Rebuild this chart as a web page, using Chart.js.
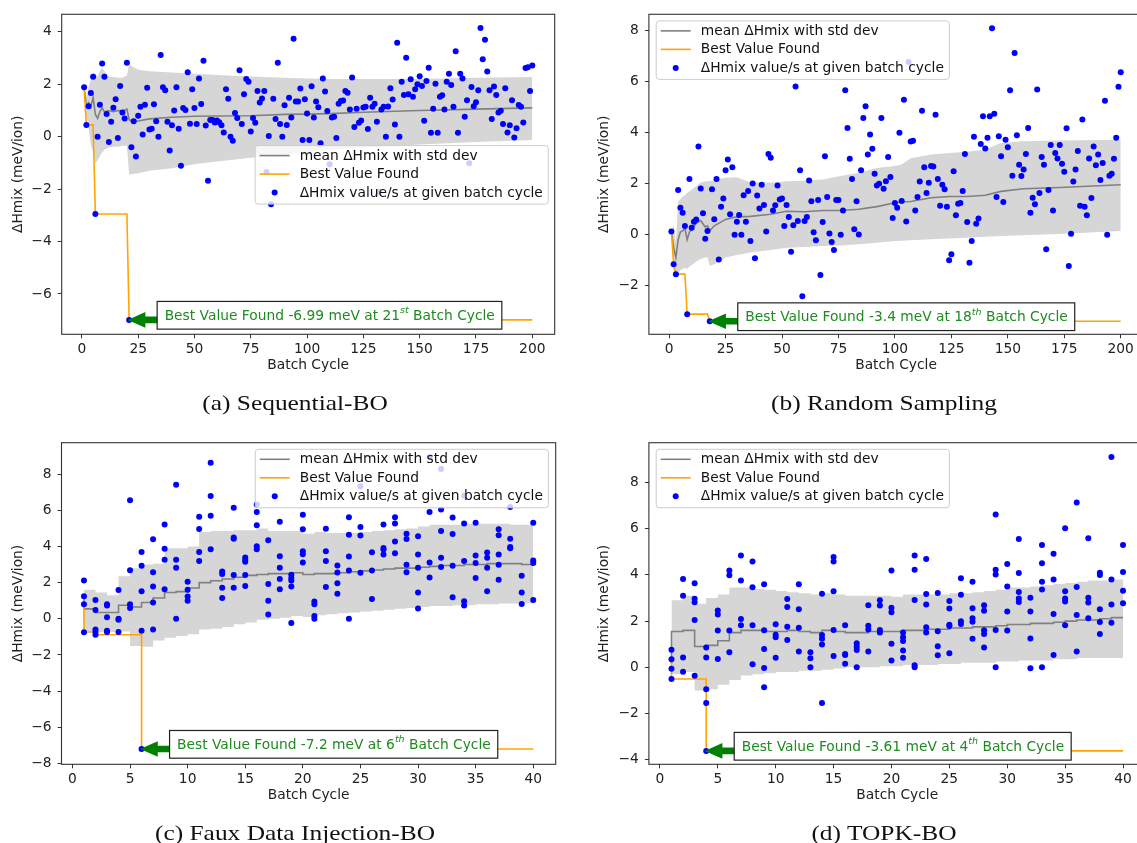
<!DOCTYPE html>
<html>
<head>
<meta charset="utf-8">
<script src="https://cdn.jsdelivr.net/npm/chart.js@4.4.1/dist/chart.umd.min.js"></script>
<style>
  html, body { margin: 0; padding: 0; background: #fff; }
  body { width: 1137px; height: 843px; overflow: hidden; position: relative; }
  .panel { position: absolute; }
  .caption {
    position: absolute; transform: translate(-50%, -50%) scaleX(1.21);
    font-family: "Liberation Serif", serif; font-size: 21px; color: #111; white-space: nowrap;
  }
</style>
</head>
<body>
<div class="panel" style="left:0;top:0;width:570px;height:420px"><canvas id="chartA" width="570" height="420"></canvas></div>
<div class="panel" style="left:570px;top:0;width:580px;height:420px"><canvas id="chartB" width="580" height="420"></canvas></div>
<div class="panel" style="left:0;top:420px;width:570px;height:423px"><canvas id="chartC" width="570" height="423"></canvas></div>
<div class="panel" style="left:570px;top:420px;width:580px;height:423px"><canvas id="chartD" width="580" height="423"></canvas></div>
<div class="caption" style="left:295px;top:403px">(a) Sequential-BO</div>
<div class="caption" style="left:884px;top:403px">(b) Random Sampling</div>
<div class="caption" style="left:295px;top:833px">(c) Faux Data Injection-BO</div>
<div class="caption" style="left:884px;top:833px">(d) TOPK-BO</div>
<script>
// ---- (a) Sequential-BO : one evaluation per batch cycle 1..200
const aValues = [1.89,0.45,1.16,1.67,2.29,-2.95,0.0,1.22,2.79,2.29,0.87,-0.2,0.57,1.1,1.43,-0.05,1.93,0.92,0.69,2.82,
  -6.99,-0.4,0.59,-0.76,0.8,1.14,0.08,1.22,1.87,0.27,0.3,1.24,0.59,0.0,3.12,1.89,1.77,0.57,-0.53,0.44,
  1.0,1.89,0.3,-1.11,1.09,1.02,2.46,0.49,1.81,1.09,0.48,2.22,1.25,2.9,0.43,-1.68,0.64,0.64,0.54,0.62,
  0.55,0.44,0.16,1.81,1.45,0.0,-0.16,0.9,0.71,2.53,0.48,1.62,2.2,2.1,0.2,0.71,0.53,1.74,1.3,1.46,
  1.74,-1.35,0.03,-2.58,1.45,0.67,2.82,0.48,0.0,1.2,0.45,1.49,0.73,3.74,1.34,1.34,1.84,-0.13,1.43,0.88,
  -0.13,1.92,0.73,1.34,1.12,-0.25,2.22,1.72,0.98,-1.05,0.73,0.76,-0.05,1.26,1.36,1.38,1.74,1.68,1.04,2.26,
  0.37,1.07,0.53,0.62,1.11,1.14,0.29,1.49,1.14,1.26,0.57,-2.1,1.04,1.14,0.0,1.15,1.85,1.42,0.46,3.58,
  0.0,2.1,1.59,3.01,1.62,2.19,1.52,1.81,2.0,2.31,1.93,0.61,2.12,2.63,0.15,1.07,2.02,0.15,1.52,1.58,
  1.04,2.1,2.4,1.97,1.14,3.26,0.15,2.4,2.22,0.76,1.39,-1.01,1.9,1.16,1.31,1.77,4.15,2.95,3.7,2.49,
  1.77,0.67,1.91,1.59,0.92,0.99,0.48,1.85,0.16,0.44,1.39,-0.03,0.32,1.21,1.14,0.54,2.62,2.65,1.74,2.72];
const aBandCycles = [1,2,3,4,5,6,7,8,9,10,12,14,16,18,20,21,22,25,30,40,50,60,75,90,100,110,125,150,175,200];
const aMean  = [1.9,1.15,1.3,1.15,1.5,0.85,0.7,0.95,1.1,0.95,1.0,0.95,1.0,0.98,1.05,0.65,0.6,0.6,0.68,0.74,0.78,0.79,0.8,0.85,0.86,0.88,0.93,1.0,1.05,1.1];
const aUpper = [1.9,1.5,1.9,2.2,2.45,2.4,2.3,2.5,2.63,2.5,2.3,2.28,2.25,2.25,2.33,2.75,2.7,2.55,2.5,2.45,2.4,2.35,2.3,2.25,2.22,2.2,2.2,2.2,2.25,2.28];
const aLower = [1.9,0.8,0.3,-0.3,-0.6,-1.0,-0.9,-0.75,-0.6,-0.5,-0.4,-0.38,-0.38,-0.35,-0.35,-1.45,-1.42,-1.4,-1.3,-1.2,-1.05,-0.95,-0.8,-0.68,-0.6,-0.5,-0.42,-0.3,-0.2,-0.13];
const aBestCycles = [1,2,5,6,20,21,200];
const aBestValues = [1.89,0.45,0.45,-2.95,-2.95,-6.99,-6.99];
const aXTicks = [0,25,50,75,100,125,150,175,200];
const aYTicks = [-6,-4,-2,0,2,4];

// ---- (b) Random Sampling : one evaluation per batch cycle 1..200
const bValues = [0.12,-1.16,-1.55,1.75,1.06,0.86,0.34,-3.12,2.19,0.27,0.51,0.6,3.46,1.81,0.84,-0.16,0.14,-3.4,1.78,0.61,
  2.19,-0.97,1.1,1.42,2.53,2.95,0.8,2.65,0.0,0.51,0.77,0.0,1.55,0.51,1.71,-0.25,2.01,-0.93,1.54,1.03,
  1.96,1.16,0.12,3.17,3.02,0.95,1.15,1.93,1.38,1.42,0.34,1.16,0.69,-0.67,0.37,5.82,0.54,2.53,-2.42,0.54,
  0.69,2.13,1.31,0.1,-0.22,1.36,-1.58,0.5,3.08,1.48,0.05,-0.29,-0.6,1.36,1.36,0.0,0.95,5.67,4.19,2.98,
  2.19,0.21,1.31,0.01,2.53,4.58,5.04,3.15,3.93,3.37,2.39,1.93,2.0,4.58,1.8,2.1,3.05,2.26,0.65,1.24,
  1.06,4.0,1.32,5.3,0.52,6.78,3.66,3.69,0.95,1.48,2.09,4.86,2.65,1.64,2.04,2.7,2.68,4.71,2.19,1.14,
  1.96,1.78,1.1,-1.0,-0.77,2.49,0.76,1.21,1.24,1.71,3.17,0.5,-1.1,-0.25,3.84,0.43,0.63,3.56,4.65,3.38,
  3.8,4.65,8.1,4.75,1.48,3.86,3.08,1.28,3.73,3.43,5.67,2.31,7.13,3.9,2.74,2.3,2.56,3.17,4.19,0.86,
  1.45,1.19,5.7,1.64,3.05,2.74,-0.57,1.75,3.52,0.95,3.21,2.99,3.52,2.78,2.47,4.18,-1.23,0.04,2.09,2.56,
  3.28,1.14,4.52,1.1,0.76,2.99,1.44,3.46,2.72,3.15,2.15,2.81,5.26,0.0,2.31,2.39,2.98,3.8,5.81,6.37];
const bBandCycles = [1,2,3,4,5,6,7,8,9,10,12,14,16,17,18,20,25,30,36,45,52,60,68,76,84,92,100,103,107,116,124,132,140,147,157,173,200];
const bMean  = [0.12,-0.5,-0.9,-0.2,0.1,0.15,0.25,-0.2,0.1,0.2,0.45,0.55,0.3,0.35,0.15,0.35,0.6,0.7,0.72,0.8,0.92,0.9,0.95,0.95,1.0,1.1,1.25,1.28,1.3,1.45,1.5,1.5,1.55,1.7,1.8,1.85,1.96];
const bUpper = [0.12,0.4,-0.3,1.3,1.4,1.5,1.55,1.65,1.7,1.75,1.9,2.05,2.1,2.1,2.1,2.15,2.23,2.25,2.05,2.05,2.1,2.12,2.17,2.3,2.43,2.62,2.7,2.75,3.0,3.15,3.21,3.25,3.34,3.6,3.67,3.7,3.73];
const bLower = [0.12,-1.4,-1.6,-1.5,-1.4,-1.35,-1.3,-1.35,-1.25,-1.2,-1.05,-0.95,-0.9,-0.9,-1.23,-1.16,-0.9,-0.8,-0.7,-0.6,-0.51,-0.48,-0.44,-0.42,-0.38,-0.32,-0.25,-0.24,-0.22,-0.18,-0.15,-0.12,-0.08,-0.05,-0.02,0.03,0.14];
const bBestCycles = [1,2,3,7,8,17,18,200];
const bBestValues = [0.12,-1.16,-1.55,-1.55,-3.12,-3.12,-3.4,-3.4];
const bXTicks = [0,25,50,75,100,125,150,175,200];
const bYTicks = [-2,0,2,4,6,8];

// ---- (c) Faux Data Injection-BO : several evaluations per batch cycle 1..40
const cValuesByCycle = [
  [2.12,1.25,0.8,-0.75],[1.04,0.48,-0.6,-0.88,-0.73],[0.8,0.73,0.09,-0.66,-0.73],[1.59,0.0,-0.05,-0.73],
  [6.56,2.69,0.81,0.59],[3.7,2.93,1.52,-0.66,-7.2],[4.4,2.58,1.78,0.9,-0.59],[5.22,3.88,3.26,1.63],
  [7.42,3.26,2.82,0.0],[2.05,1.61,1.23,1.0],[5.64,4.96,3.7,3.2],[8.63,6.79,5.7,3.85],
  [2.62,2.47,1.72,1.15],[6.14,4.49,4.43,2.42,1.72],[3.39,3.26,3.15,2.42,1.81],[6.32,5.9,5.18,4.01,3.85],
  [4.34,1.92,1.0,0.24],[5.37,3.46,2.82,2.2,1.63],[2.44,2.25,2.12,1.78,-0.24],[5.75,4.95,3.74,3.57,3.11],
  [0.95,0.81,0.15,0.0],[4.98,3.74,3.2,1.76],[2.95,2.56,1.96,1.39],[5.62,4.65,3.44,2.67,0.0],
  [7.33,5.07,4.6,2.55],[3.68,2.67,1.1],[5.22,3.92,3.83,3.55],[5.62,5.27,4.27,3.63],
  [4.71,4.41,2.99,2.58],[4.56,3.55,2.82,1.45,0.57],[8.95,5.9,3.11,2.29],[8.28,6.04,4.85,3.37,2.86],
  [5.6,4.69,2.93,1.19],[6.81,5.27,3.19,0.97,0.73],[5.31,3.5,3.08,2.25],[3.66,3.37,2.82,1.52],
  [4.95,4.62,3.55,2.99,2.16],[6.19,4.43,3.97,3.9],[2.38,1.45,0.82],[5.31,3.22,3.08,1.04]];
const cMean  = [1.1,0.55,0.35,0.35,0.75,0.65,0.9,1.15,1.45,1.5,1.7,2.0,2.1,2.2,2.3,2.4,2.45,2.5,2.5,2.55,2.45,2.5,2.5,2.55,2.6,2.65,2.7,2.75,2.8,2.8,2.85,2.9,2.95,2.95,3.0,3.0,3.05,3.05,3.05,3.0];
const cUpper = [2.0,1.6,1.45,1.3,2.35,2.8,3.0,3.05,3.9,3.9,4.0,4.8,4.85,4.85,4.9,4.9,5.0,4.85,4.85,4.85,4.7,4.8,4.75,4.75,4.75,4.8,4.85,4.9,4.95,5.0,5.1,5.2,5.2,5.2,5.25,5.25,5.25,5.25,5.2,5.2];
const cLower = [0.0,-0.7,-0.75,-0.75,-0.7,-1.5,-1.55,-1.2,-1.05,-0.95,-0.85,-0.6,-0.55,-0.45,-0.3,-0.2,-0.05,0.0,0.05,0.15,0.1,0.2,0.25,0.3,0.35,0.4,0.45,0.5,0.55,0.6,0.65,0.7,0.7,0.75,0.75,0.8,0.8,0.85,0.85,0.85];
const cBestCycles = [1,1,2,2,6,6,40];
const cBestValues = [0.8,-0.73,-0.73,-0.88,-0.88,-7.2,-7.2];
const cXTicks = [0,5,10,15,20,25,30,35,40];
const cYTicks = [-8,-6,-4,-2,0,2,4,6,8];

// ---- (d) TOPK-BO : several evaluations per batch cycle 1..40
const dValuesByCycle = [
  [0.76,0.35,-0.06,-0.5],[3.82,3.1,0.43,-0.19],[3.63,2.97,2.81,2.05,-0.36],[0.86,0.43,-0.95,-1.54,-3.61],
  [2.46,2.28,1.59,0.36],[4.19,3.98,1.59,0.65],[4.83,3.75,2.09,1.82],[4.57,3.46,1.82,0.13],
  [3.59,1.6,0.79,-0.03,-0.86],[1.86,1.41,1.3,0.42],[2.95,2.61,1.76,1.18],[3.59,2.51,1.71,0.69],
  [0.65,0.39,0.0],[3.18,1.4,1.24,0.99,-1.54],[4.77,4.58,3.29,1.61,0.49],[1.82,0.58,0.53,0.16],
  [1.04,0.89,0.75,0.0],[2.68,1.8,1.64,0.69],[2.9,2.67,1.61,1.51],[4.19,2.58,2.38,1.02,0.3],
  [1.51,1.3,1.14,0.73,0.42],[4.83,4.22,2.91,0.09,0.01],[4.68,3.17,2.72,1.73,1.51],[3.21,1.56,0.91,0.52],
  [2.87,2.54,1.84,1.79,0.61],[3.85,3.14,1.99,1.87],[3.7,2.56,2.12,1.97,1.24],[2.68,2.45,1.6,1.44,0.86],
  [6.61,4.22,4.01,1.61,0.0],[4.47,3.49,2.41,1.59],[5.55,4.08,3.26,2.98,2.82],[3.01,2.41,1.25,-0.04],
  [5.29,4.5,3.7,3.37,0.0],[4.91,3.8,2.31,0.53],[6.01,3.29,2.98,2.85,1.82],[7.13,3.47,2.26,0.68],
  [5.58,3.01,2.8,2.12],[4.09,3.99,2.51,1.96,1.44],[9.09,3.8,2.72,1.93],[5.29,4.12,3.31,2.77]];
const dMean  = [0.15,1.55,1.6,0.9,0.95,1.15,1.5,1.6,1.6,1.55,1.55,1.6,1.55,1.5,1.6,1.55,1.5,1.5,1.55,1.55,1.55,1.6,1.6,1.65,1.65,1.7,1.7,1.75,1.75,1.8,1.85,1.85,1.9,1.9,1.95,2.0,2.05,2.05,2.1,2.15];
const dUpper = [0.7,2.9,3.1,2.75,3.0,3.15,3.45,3.45,3.4,3.35,3.3,3.25,3.2,3.15,3.2,3.15,3.1,3.1,3.1,3.1,3.05,3.15,3.15,3.15,3.15,3.2,3.2,3.25,3.3,3.35,3.45,3.45,3.5,3.55,3.6,3.65,3.7,3.75,3.75,3.8];
const dLower = [-0.25,-0.3,-0.2,-1.0,-0.95,-0.75,-0.55,-0.35,-0.3,-0.25,-0.2,-0.2,-0.15,-0.15,-0.1,-0.05,0.0,0.0,0.0,0.05,0.05,0.1,0.1,0.1,0.15,0.15,0.2,0.2,0.2,0.25,0.25,0.3,0.3,0.3,0.35,0.35,0.4,0.4,0.4,0.4];
const dBestCycles = [1,1,4,4,40];
const dBestValues = [0.35,-0.5,-0.5,-3.61,-3.61];
const dXTicks = [0,5,10,15,20,25,30,35,40];
const dYTicks = [-4,-2,0,2,4,6,8];

const LABEL_MEAN = 'mean ΔHmix with std dev';
const LABEL_BEST = 'Best Value Found';
const LABEL_DOTS = 'ΔHmix value/s at given batch cycle';

const FONT_PX = 13.8;
Chart.defaults.font.family = 'DejaVu Sans';
Chart.defaults.font.size = FONT_PX;
Chart.defaults.color = '#222';

const BLUE = '#0000ff', ORANGE = '#ffa500', GRAY = '#808080', BAND = '#d6d6d6';
const GREEN = '#008000', NOTE_TEXT = '#1f8a1f';

function pts(xs, ys) { return xs.map((x, i) => ({ x: x, y: ys[i] })); }
function flatByCycle(groups) {
  const out = [];
  groups.forEach((g, i) => g.forEach(v => out.push({ x: i + 1, y: v })));
  return out;
}
const minus = v => String(v).replace('-', '\u2212');

// legend, annotation box + arrow, axes frame
const overlay = {
  id: 'overlay',
  afterDatasetsDraw(chart, args, opts) {
    const { ctx, chartArea: ca } = chart;
    ctx.save();
    ctx.strokeStyle = '#333';
    ctx.lineWidth = 1.1;
    ctx.strokeRect(ca.left, ca.top, ca.right - ca.left, ca.bottom - ca.top);
    ctx.restore();
    drawNote(chart, opts.note);
    drawLegend(chart, opts.legend);
  }
};

function drawNote(chart, note) {
  const { ctx, scales } = chart;
  const px = scales.x.getPixelForValue(note.cycle);
  const py = scales.y.getPixelForValue(note.value);
  const main = FONT_PX + 'px "DejaVu Sans"', sup = 'italic 9.5px "DejaVu Sans"';
  const t1 = 'Best Value Found ' + note.value + ' meV at ' + note.cycle;
  const t2 = ' Batch Cycle';
  ctx.save();
  ctx.font = main;
  const w1 = ctx.measureText(t1).width, w3 = ctx.measureText(t2).width;
  ctx.font = sup;
  const w2 = ctx.measureText(note.suffix).width;
  const bx = px + 28, bh = 27.7, by = py - 4.6 - bh / 2;
  const bw = 7.5 + w1 + w2 + w3 + 7;
  // arrow
  const tip = px - 1.5;
  ctx.fillStyle = GREEN;
  ctx.beginPath();
  ctx.moveTo(tip, py);
  ctx.lineTo(tip + 17.7, py - 7.8);
  ctx.lineTo(tip + 17.7, py - 3.3);
  ctx.lineTo(bx + 2, py - 3.3);
  ctx.lineTo(bx + 2, py + 3.3);
  ctx.lineTo(tip + 17.7, py + 3.3);
  ctx.lineTo(tip + 17.7, py + 7.8);
  ctx.closePath();
  ctx.fill();
  // box
  ctx.fillStyle = '#fff';
  ctx.strokeStyle = '#222';
  ctx.lineWidth = 1.2;
  ctx.fillRect(bx, by, bw, bh);
  ctx.strokeRect(bx, by, bw, bh);
  // text
  const ty = by + bh / 2 + 1;
  ctx.fillStyle = NOTE_TEXT;
  ctx.textBaseline = 'middle';
  ctx.font = main;
  ctx.fillText(t1, bx + 7.5, ty);
  ctx.font = sup;
  ctx.fillText(note.suffix, bx + 7.5 + w1, ty - 5.5);
  ctx.font = main;
  ctx.fillText(t2, bx + 7.5 + w1 + w2, ty);
  ctx.restore();
}

function drawLegend(chart, lg) {
  const { ctx, chartArea: ca } = chart;
  const rows = chart.data.datasets.filter(d => d.legendKind);
  ctx.save();
  ctx.font = FONT_PX + 'px "DejaVu Sans"';
  const tw = Math.max(...rows.map(r => ctx.measureText(r.label).width));
  const w = 4.5 + 30 + 10 + tw + 5.5, h = 58.5;
  const x = lg.anchor === 'left' ? ca.left + lg.dx : ca.right - lg.dx - w;
  const y = ca.top + lg.dy;
  ctx.beginPath();
  ctx.roundRect(x, y, w, h, 3);
  ctx.fillStyle = 'rgba(255,255,255,0.8)';
  ctx.fill();
  ctx.strokeStyle = '#cccccc';
  ctx.lineWidth = 1;
  ctx.stroke();
  rows.forEach((r, i) => {
    const cy = y + 10 + i * 18.5;
    if (r.legendKind === 'line') {
      ctx.strokeStyle = r.borderColor;
      ctx.lineWidth = r.borderWidth;
      ctx.beginPath();
      ctx.moveTo(x + 4.5, cy);
      ctx.lineTo(x + 34.5, cy);
      ctx.stroke();
    } else {
      ctx.fillStyle = r.backgroundColor;
      ctx.beginPath();
      ctx.arc(x + 19.5, cy, 3, 0, Math.PI * 2);
      ctx.fill();
    }
    ctx.fillStyle = '#111';
    ctx.textBaseline = 'middle';
    ctx.fillText(r.label, x + 44.5, cy + 0.5);
  });
  ctx.restore();
}

function makeChart(id, p) {
  const datasets = [
    { label: '', data: pts(p.bandX, p.lower), showLine: true, borderColor: 'rgba(0,0,0,0)', borderWidth: 0,
      pointRadius: 0, fill: false, stepped: p.stepped, order: 4 },
    { label: '', data: pts(p.bandX, p.upper), showLine: true, borderColor: 'rgba(0,0,0,0)', borderWidth: 0,
      pointRadius: 0, backgroundColor: BAND, fill: '-1', stepped: p.stepped, order: 3 },
    { label: LABEL_MEAN, legendKind: 'line', data: pts(p.bandX, p.mean), showLine: true, borderColor: GRAY,
      borderWidth: 1.6, pointRadius: 0, stepped: p.stepped, order: 2 },
    { label: LABEL_BEST, legendKind: 'line', data: pts(p.bestX, p.bestY), showLine: true, borderColor: ORANGE,
      borderWidth: 1.6, pointRadius: 0, order: 1 },
    { label: LABEL_DOTS, legendKind: 'dot', data: p.dots, showLine: false, backgroundColor: BLUE,
      borderWidth: 0, pointRadius: 3, order: 0 }
  ];
  const yW = p.yWidth;
  return new Chart(document.getElementById(id), {
    type: 'scatter',
    data: { datasets: datasets },
    options: {
      responsive: false,
      animation: false,
      events: [],
      layout: { padding: p.pad },
      plugins: {
        legend: { display: false },
        tooltip: { enabled: false },
        overlay: { note: p.note, legend: p.legend }
      },
      scales: {
        x: {
          type: 'linear', min: p.xRange[0], max: p.xRange[1],
          afterBuildTicks: s => { s.ticks = p.xTicks.map(v => ({ value: v })); },
          afterFit: s => { s.height = 39.7; },
          ticks: { callback: minus, padding: 3, maxRotation: 0, color: '#222' },
          grid: { drawOnChartArea: false, drawTicks: true, tickLength: 4, tickColor: '#333' },
          border: { display: false },
          title: { display: true, text: 'Batch Cycle', padding: 0, color: '#222' }
        },
        y: {
          type: 'linear', min: p.yRange[0], max: p.yRange[1],
          afterBuildTicks: s => { s.ticks = p.yTicks.map(v => ({ value: v })); },
          afterFit: s => { s.width = yW; },
          ticks: { callback: minus, padding: 6, color: '#222' },
          grid: { drawOnChartArea: false, drawTicks: true, tickLength: 4, tickColor: '#333' },
          border: { display: false },
          title: { display: true, text: 'ΔHmix (meV/ion)', padding: 0, color: '#222' }
        }
      }
    },
    plugins: [overlay]
  });
}

makeChart('chartA', {
  dots: pts(aValues.map((v, i) => i + 1), aValues),
  bandX: aBandCycles, mean: aMean, upper: aUpper, lower: aLower, stepped: false,
  bestX: aBestCycles, bestY: aBestValues,
  xTicks: aXTicks, yTicks: aYTicks, xRange: [-8.95, 209.95], yRange: [-7.54, 4.67],
  pad: { left: 9.9, top: 12.7, right: 15.3, bottom: 46 }, yWidth: 51.8,
  note: { cycle: 21, value: -6.99, suffix: 'st' },
  legend: { anchor: 'right', dx: 6.4, dy: 131.3 }
});
makeChart('chartB', {
  dots: pts(bValues.map((v, i) => i + 1), bValues),
  bandX: bBandCycles, mean: bMean, upper: bUpper, lower: bLower, stepped: false,
  bestX: bBestCycles, bestY: bBestValues,
  xTicks: bXTicks, yTicks: bYTicks, xRange: [-8.95, 209.95], yRange: [-3.91, 8.65],
  pad: { left: 26.2, top: 12.7, right: 6.8, bottom: 46 }, yWidth: 52.7,
  note: { cycle: 18, value: -3.4, suffix: 'th' },
  legend: { anchor: 'left', dx: 7.3, dy: 6.6 }
});
const cycles40 = cMean.map((v, i) => i + 1);
makeChart('chartC', {
  dots: flatByCycle(cValuesByCycle),
  bandX: cycles40, mean: cMean, upper: cUpper, lower: cLower, stepped: 'after',
  bestX: cBestCycles, bestY: cBestValues,
  xTicks: cXTicks, yTicks: cYTicks, xRange: [-0.95, 41.95], yRange: [-8.05, 9.74],
  pad: { left: 9.9, top: 22.7, right: 14.3, bottom: 39 }, yWidth: 51.6,
  note: { cycle: 6, value: -7.2, suffix: 'th' },
  legend: { anchor: 'right', dx: 7.3, dy: 6.6 }
});
makeChart('chartD', {
  dots: flatByCycle(dValuesByCycle),
  bandX: cycles40, mean: dMean, upper: dUpper, lower: dLower, stepped: 'after',
  bestX: dBestCycles, bestY: dBestValues,
  xTicks: dXTicks, yTicks: dYTicks, xRange: [-0.95, 41.95], yRange: [-4.19, 9.71],
  pad: { left: 26.2, top: 22.7, right: 4.4, bottom: 39 }, yWidth: 52.7,
  note: { cycle: 4, value: -3.61, suffix: 'th' },
  legend: { anchor: 'left', dx: 7.3, dy: 6.6 }
});
</script>
</body>
</html>
